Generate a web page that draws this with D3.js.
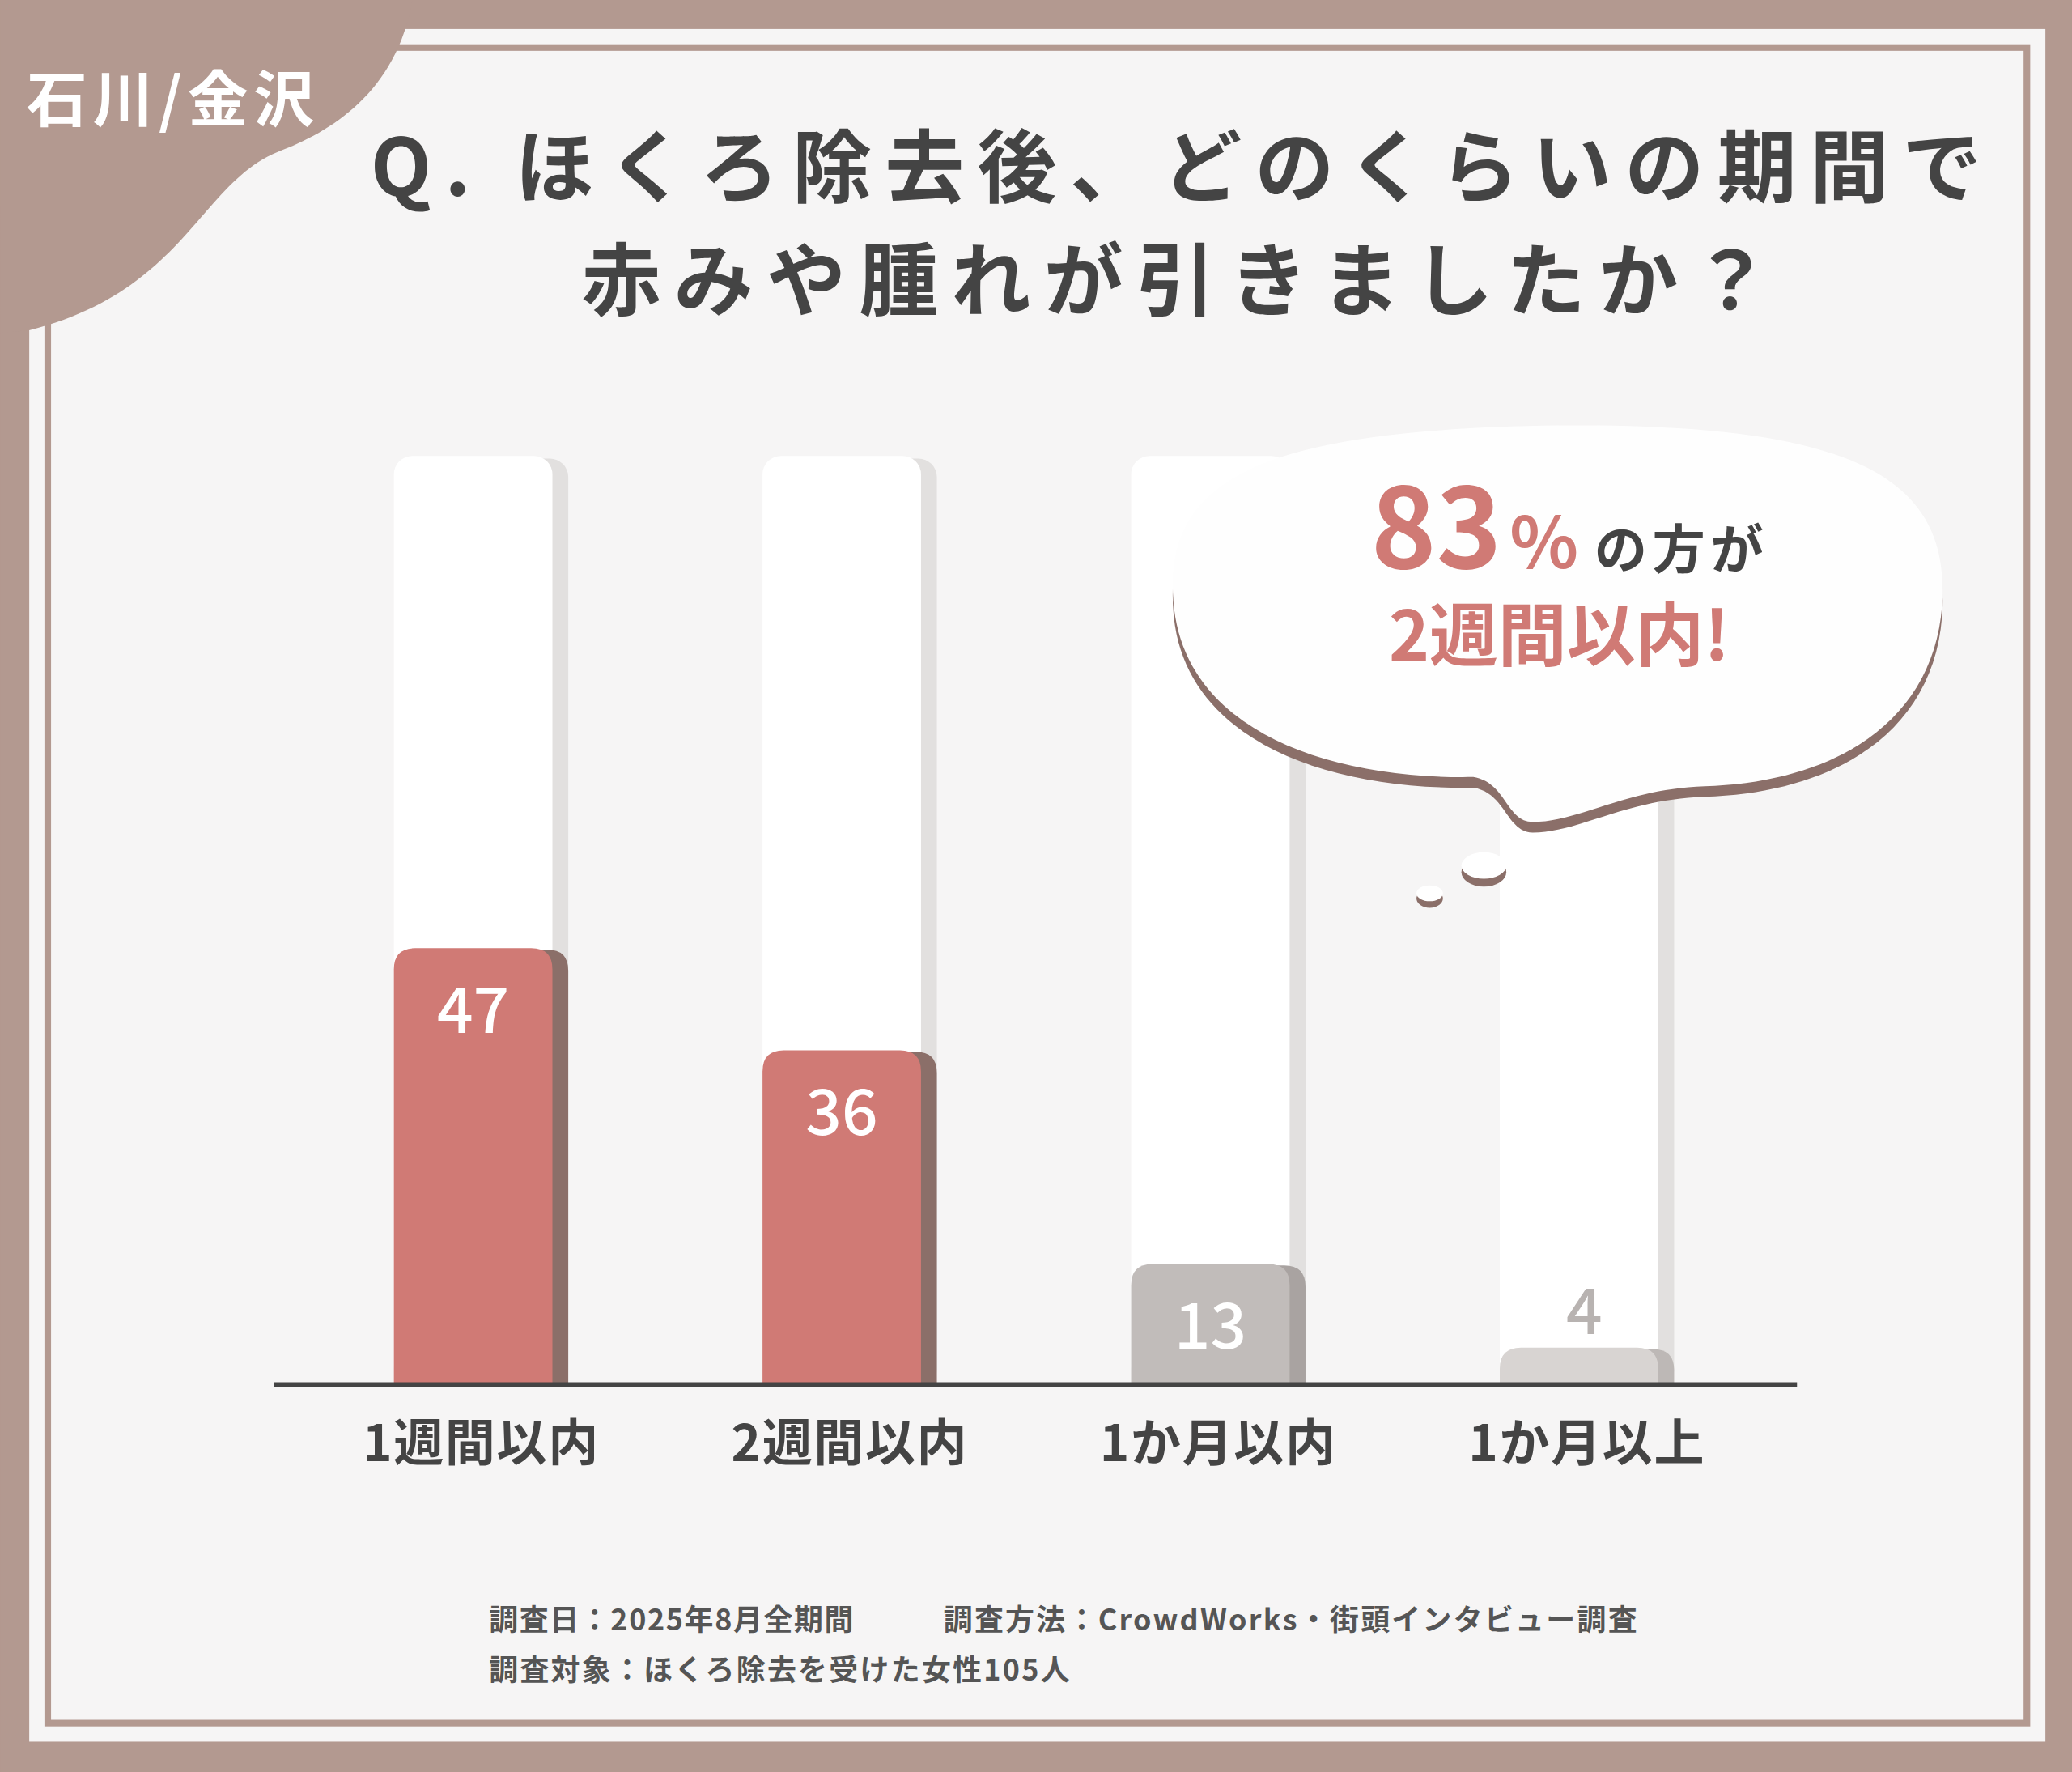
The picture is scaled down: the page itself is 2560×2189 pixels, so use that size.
<!DOCTYPE html>
<html><head><meta charset="utf-8">
<script src="https://cdn.jsdelivr.net/npm/d3@7"></script>
<style>html,body{margin:0;padding:0;background:#b39990;}svg{display:block}</style>
</head><body>
<script>
const categories = ["1週間以内","2週間以内","1か月以内","1か月以上"];
const values = [47,36,13,4];
const barColors = ["#d07a75","#d07a75","#c1bcba","#d8d4d2"];
const shadowColors = ["#8b6f69","#8b6f69","#a9a3a1","#bdb8b6"];
const titleLines = ["Q. ほくろ除去後、どのくらいの期間で","赤みや腫れが引きましたか？"];
const footer = ["調査日：2025年8月全期間","調査方法：CrowdWorks・街頭インタビュー調査","調査対象：ほくろ除去を受けた女性105人"];

const F = "'Noto Sans CJK JP','Noto Sans',sans-serif";
const svg = d3.select("body").append("svg").attr("width",2560).attr("height",2189).attr("viewBox","0 0 1568 1341");
const brown = "#b39990";
svg.append("rect").attr("width",1568).attr("height",1341).attr("fill",brown);
svg.append("rect").attr("x",22).attr("y",22).attr("width",1526).attr("height",1296).attr("fill","#f6f5f5");
svg.append("rect").attr("x",36).attr("y",36).attr("width",1498).attr("height",1268).attr("fill","none").attr("stroke",brown).attr("stroke-width",5);
svg.append("path").attr("d","M0 0 H312 C300 70 250 100 210 115 C150 140 140 220 22 250 L0 252 Z").attr("fill",brown);
svg.append("text").attr("x",20).attr("y",92).attr("font-family",F).attr("font-weight",700).attr("font-size",46).attr("letter-spacing",4).attr("fill","#fff").text("石川/金沢");

svg.selectAll("text.title").data(titleLines).join("text").attr("class","title")
 .attr("x",895).attr("y",(d,i)=>148+i*86).attr("text-anchor","middle").attr("font-family",F).attr("font-weight",700)
 .attr("font-size",60).attr("letter-spacing",10).attr("fill","#444").text(d=>d);

const x = d3.scaleBand().domain(categories).range([298,1255]).paddingInner(0.57).paddingOuter(0);
const y = d3.scaleLinear().domain([0,100]).range([1048,345]);
const bw = x.bandwidth();
const g = svg.append("g");
categories.forEach((c,i)=>{
  const x0 = x(c);
  g.append("rect").attr("x",x0+12).attr("y",y(100)+2).attr("width",bw).attr("height",y(0)-y(100)).attr("rx",14).attr("fill","#e2e0df");
  g.append("rect").attr("x",x0).attr("y",y(100)).attr("width",bw).attr("height",y(0)-y(100)).attr("rx",14).attr("fill","#ffffff");
  const v = values[i];
  g.append("path").attr("d",roundTop(x0+12,y(v)+1,bw,y(0)-y(v)-1,16)).attr("fill",shadowColors[i]);
  g.append("path").attr("d",roundTop(x0,y(v),bw,y(0)-y(v),16)).attr("fill",barColors[i]);
  const inside = y(0)-y(v) > 60;
  g.append("text").attr("x",x0+bw/2+(inside?0:4)).attr("y", inside ? y(v)+64 : y(v)-10).attr("text-anchor","middle")
   .attr("font-family",F).attr("font-weight",500).attr("font-size",48).attr("fill",inside?"#fff":"#b8b3b1").text(v);
  g.append("text").attr("x",x0+bw/2+6).attr("y",1106).attr("text-anchor","middle").attr("font-family",F).attr("font-weight",700)
   .attr("font-size",38).attr("letter-spacing",1).attr("fill","#444").text(c);
});
svg.append("line").attr("x1",207).attr("x2",1360).attr("y1",1048).attr("y2",1048).attr("stroke","#444").attr("stroke-width",4);
function roundTop(x,y,w,h,r){return `M${x},${y+h}V${y+r}Q${x},${y} ${x+r},${y}H${x+w-r}Q${x+w},${y} ${x+w},${y+r}V${y+h}Z`;}

const cloud = "M888 455 C880 360 960 325 1180 322 C1400 320 1475 360 1470 455 C1465 545 1390 592 1290 595 C1230 597 1195 622 1160 622 C1140 622 1140 592 1115 588 C1000 590 895 550 888 455 Z";
svg.append("path").attr("d",cloud).attr("transform","translate(0,8)").attr("fill","#8b6f69");
svg.append("path").attr("d",cloud).attr("fill","#fefefe");
svg.append("ellipse").attr("cx",1123).attr("cy",660).attr("rx",17).attr("ry",11).attr("fill","#8b6f69");
svg.append("ellipse").attr("cx",1123).attr("cy",655).attr("rx",17).attr("ry",10).attr("fill","#fff");
svg.append("ellipse").attr("cx",1082).attr("cy",680).attr("rx",10).attr("ry",7).attr("fill","#8b6f69");
svg.append("ellipse").attr("cx",1082).attr("cy",676).attr("rx",10).attr("ry",6).attr("fill","#fff");
const t1 = svg.append("text").attr("x",1188).attr("y",430).attr("text-anchor","middle").attr("font-family",F).attr("font-weight",700);
t1.append("tspan").attr("font-size",84).attr("fill","#d07a75").text("83");
t1.append("tspan").attr("font-size",54).attr("fill","#d07a75").attr("dx",6).text("%");
t1.append("tspan").attr("font-size",40).attr("fill","#444").attr("dx",12).attr("letter-spacing",4).text("の方が");
svg.append("text").attr("x",1180).attr("y",500).attr("text-anchor","middle").attr("font-family",F).attr("font-weight",700)
 .attr("font-size",52).attr("fill","#d07a75").text("2週間以内!");

const ft = [[370,1234,footer[0],1],[714,1234,footer[1],1.4],[370,1272,footer[2],1.4]];
svg.selectAll("text.ft").data(ft).join("text").attr("class","ft").attr("x",d=>d[0]).attr("y",d=>d[1])
 .attr("font-family",F).attr("font-weight",700).attr("font-size",22).attr("letter-spacing",d=>d[3]).attr("fill","#555").text(d=>d[2]);
</script>
</body></html>
